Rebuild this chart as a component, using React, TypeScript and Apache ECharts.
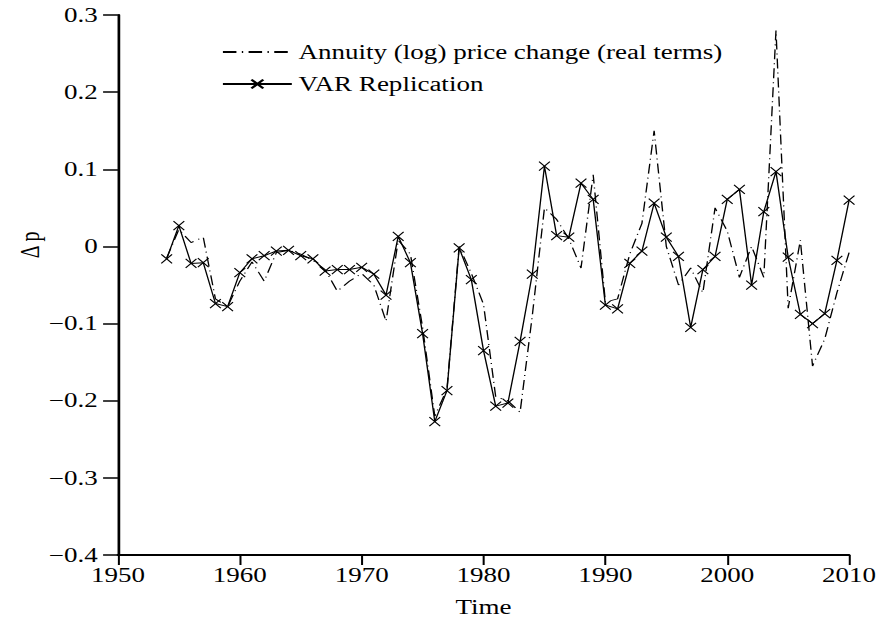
import React, { useEffect, useRef } from 'react';
import * as echarts from 'echarts';

const years = [
  1954, 1955, 1956, 1957, 1958, 1959, 1960, 1961, 1962, 1963,
  1964, 1965, 1966, 1967, 1968, 1969, 1970, 1971, 1972, 1973,
  1974, 1975, 1976, 1977, 1978, 1979, 1980, 1981, 1982, 1983,
  1984, 1985, 1986, 1987, 1988, 1989, 1990, 1991, 1992, 1993,
  1994, 1995, 1996, 1997, 1998, 1999, 2000, 2001, 2002, 2003,
  2004, 2005, 2006, 2007, 2008, 2009, 2010,
];

const annuity = [
  -0.015, 0.022, 0.005, 0.012, -0.068, -0.078, -0.045, -0.02, -0.045, -0.008,
  -0.005, -0.01, -0.018, -0.03, -0.058, -0.045, -0.035, -0.05, -0.097, 0.008,
  -0.01, -0.105, -0.22, -0.185, 0.0, -0.035, -0.075, -0.195, -0.2, -0.215,
  -0.09, 0.05, 0.035, 0.01, -0.028, 0.093, -0.072, -0.068, -0.01, 0.03,
  0.15, 0.0, -0.05, -0.028, -0.06, 0.05, 0.02, -0.04, 0.0, -0.04,
  0.28, -0.08, 0.008, -0.155, -0.12, -0.06, -0.008,
];

const varRep = [
  -0.016, 0.027, -0.022, -0.021, -0.074, -0.078, -0.034, -0.016, -0.012, -0.006,
  -0.005, -0.012, -0.016, -0.032, -0.03, -0.03, -0.027, -0.036, -0.063, 0.013,
  -0.021, -0.113, -0.227, -0.187, -0.002, -0.043, -0.135, -0.207, -0.203, -0.123,
  -0.036, 0.104, 0.014, 0.012, 0.082, 0.061, -0.076, -0.081, -0.022, -0.006,
  0.056, 0.012, -0.013, -0.105, -0.03, -0.013, 0.061, 0.074, -0.05, 0.045,
  0.097, -0.014, -0.088, -0.1, -0.087, -0.018, 0.06,
];

const seriesNames = ['Annuity (log) price change (real terms)', 'VAR Replication'];

const S = 1.351;
const W = 652;
const H = 633;
const FONT = 'Liberation Serif';

export default function App() {
  const ref = useRef<HTMLDivElement>(null);
  useEffect(() => {
    if (!ref.current) return;
    const chart = echarts.init(ref.current, undefined, { renderer: 'svg' });
    const fmtY = (v: number) => (Math.abs(v) < 1e-9 ? '0' : v.toFixed(1).replace('-', '\u2212'));
    chart.setOption({
      animation: false,
      backgroundColor: '#fff',
      textStyle: { fontFamily: FONT, color: '#000' },
      grid: { left: 87.3, right: 23.5, top: 15, bottom: 78 },
      legend: {
        orient: 'vertical',
        left: 159,
        top: 37,
        itemWidth: 51,
        itemHeight: 11,
        itemGap: 12,
        textStyle: { fontFamily: FONT, fontSize: 20, color: '#000' },
        data: [
          { name: seriesNames[0], itemStyle: { opacity: 0 } },
          { name: seriesNames[1] },
        ],
      },
      xAxis: {
        type: 'value',
        min: 1950,
        max: 2010,
        interval: 10,
        name: 'Time',
        nameLocation: 'middle',
        nameGap: 42,
        nameTextStyle: { fontFamily: FONT, fontSize: 20, color: '#000' },
        axisLine: { show: true, onZero: false, lineStyle: { color: '#000', width: 2 } },
        axisTick: { show: true, length: 10, inside: false, lineStyle: { color: '#000', width: 1.5 } },
        axisLabel: { fontFamily: FONT, fontSize: 20, color: '#000', margin: 10, formatter: (v: number) => String(v) },
        splitLine: { show: false },
      },
      yAxis: {
        type: 'value',
        min: -0.4,
        max: 0.3,
        interval: 0.1,
        axisLine: { show: true, onZero: false, lineStyle: { color: '#000', width: 2 } },
        axisTick: { show: true, length: 11, inside: false, lineStyle: { color: '#000', width: 1.5 } },
        axisLabel: { fontFamily: FONT, fontSize: 20, color: '#000', margin: 15, formatter: fmtY },
        splitLine: { show: false },
      },
      graphic: [
        {
          type: 'text',
          x: 22,
          y: 245,
          rotation: Math.PI / 2,
          style: { text: '\u0394 p', font: `20px ${FONT}`, fill: '#000', align: 'center', verticalAlign: 'middle' },
        },
      ],
      series: [
        {
          name: seriesNames[0],
          type: 'line',
          data: years.map((y, i) => [y, annuity[i]]),
          symbol: 'none',
          lineStyle: { color: '#000', width: 1, type: [10, 4, 1, 4] },
          itemStyle: { color: '#000' },
        },
        {
          name: seriesNames[1],
          type: 'line',
          data: years.map((y, i) => [y, varRep[i]]),
          symbol: 'path://M0,0L10,10M10,0L0,10',
          symbolSize: [8, 9],
          showSymbol: true,
          lineStyle: { color: '#000', width: 1 },
          itemStyle: { color: 'none', borderColor: '#000', borderWidth: 1 },
        },
      ],
    });
    return () => chart.dispose();
  }, []);
  return (
    <div style={{ position: 'fixed', left: 0, top: 0, width: 881, height: H, overflow: 'hidden', background: '#fff' }}>
      <div
        ref={ref}
        style={{ width: W, height: H, transform: `scaleX(${S})`, transformOrigin: '0 0' }}
      />
    </div>
  );
}
